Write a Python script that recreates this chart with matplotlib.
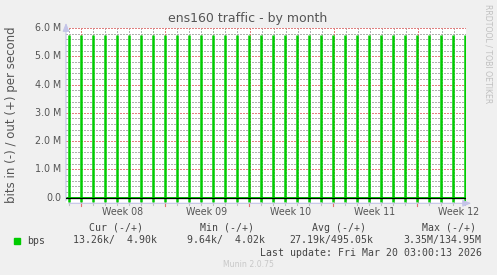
import matplotlib
matplotlib.use("Agg")
import matplotlib.pyplot as plt
import matplotlib.transforms as mtransforms
import pandas as pd

W, H = 497, 275

# daily spikes (midnight), values in M bits/s
spike_days = pd.date_range("2026-02-15", "2026-03-20", freq="D")
out_peak = [5.74, 5.74, 5.74, 5.74, 5.74, 5.74, 5.74, 5.74, 5.74, 5.74,
            5.74, 5.74, 5.74, 5.74, 5.74, 5.74, 5.74, 5.74, 5.74, 5.74,
            5.74, 5.74, 5.74, 5.74, 5.74, 5.74, 5.74, 5.74, 5.74, 5.74,
            5.74, 5.74, 5.74, 5.74]
in_dip = [-0.17, -0.15, -0.16, -0.17, -0.16, -0.15, -0.16, -0.17, -0.15, -0.16,
          -0.16, -0.16, -0.17, -0.15, -0.16, -0.16, -0.17, -0.16, -0.15, -0.16,
          -0.16, -0.17, -0.16, -0.15, -0.16, -0.16, -0.17, -0.15, -0.16, -0.16,
          -0.17, -0.16, -0.15, -0.16]
out_base = 0.0049
in_base = -0.0133

t_start = pd.Timestamp("2026-02-14 19:00")
t_end = pd.Timestamp("2026-03-20 03:00")

week_starts = pd.to_datetime(["2026-02-16", "2026-02-23", "2026-03-02", "2026-03-09", "2026-03-16"])
week_labels = ["Week 08", "Week 09", "Week 10", "Week 11", "Week 12"]

y_ticks = [0, 1, 2, 3, 4, 5, 6]
y_labels = ["0.0", "1.0 M", "2.0 M", "3.0 M", "4.0 M", "5.0 M", "6.0 M"]

legend_cols = ["Cur (-/+)", "Min (-/+)", "Avg (-/+)", "Max (-/+)"]
legend_vals = ["13.26k/  4.90k", "9.64k/  4.02k", "27.19k/495.05k", "3.35M/134.95M"]

GREEN = "#00cc00"
BG = "#f0f0f0"
TXT = "#555555"
AXC = "#c4c4e8"

plt.rcParams["lines.scale_dashes"] = False


def px(x, y):
    return x / W, 1 - y / H


def main():
    fig = plt.figure(figsize=(W / 100, H / 100), dpi=100, facecolor=BG)
    ax = fig.add_axes([66 / W, (H - 203.3) / H, 400 / W, 175.3 / H])
    ax.set_facecolor("white")
    ax.set_xlim(t_start, t_end)
    ax.set_ylim(-0.2, 6.0)
    for s in ax.spines.values():
        s.set_visible(False)
    ax.set_xticks([])
    ax.set_yticks([])

    # crisp 1px dotted grid (no antialiasing so the dots don't blur)
    dots = (0, (1.44, 1.44))
    gkw = dict(lw=0.72, ls=dots, zorder=1, snap=True, antialiased=False)
    for v in [i * 0.2 for i in range(0, 31)]:
        if abs(v - round(v)) > 1e-6:
            ax.axhline(v, color="#b0b0b0", **gkw)
    for d in spike_days:
        ax.axvline(d + pd.Timedelta(hours=2), color="#b0b0b0", **gkw)
    for v in y_ticks:
        ax.axhline(v, color="#e08080", **gkw)
    for d in week_starts:
        ax.axvline(d + pd.Timedelta(hours=2), color="#e08080", **gkw)

    # series
    ax.hlines(out_base, t_start, t_end, color=GREEN, lw=1.2, zorder=3)
    ax.hlines(in_base, t_start, t_end, color=GREEN, lw=1.2, zorder=3)
    ax.vlines(spike_days, out_base, out_peak, color=GREEN, lw=1.8, zorder=3)
    ax.vlines(spike_days, in_dip, in_base, color=GREEN, lw=1.8, zorder=3)
    ax.axhline(0, color="black", lw=0.9, zorder=4)

    # axis lines with arrows
    ax.annotate("", xy=(0, 1.045), xytext=(0, 0), xycoords="axes fraction",
                arrowprops=dict(arrowstyle="-|>,head_length=0.5,head_width=0.2", color=AXC, lw=0.8),
                annotation_clip=False)
    ax.annotate("", xy=(1.02, 0), xytext=(0, 0), xycoords="axes fraction",
                arrowprops=dict(arrowstyle="-|>,head_length=0.5,head_width=0.2", color=AXC, lw=0.8),
                annotation_clip=False)

    # small ticks under the x axis
    trans = mtransforms.blended_transform_factory(ax.transData, ax.transAxes)
    for d in spike_days:
        ax.plot([d, d], [0, -0.012], color="#c0c0c0", lw=0.8, transform=trans, clip_on=False)
    for d in week_starts:
        ax.plot([d, d], [0, -0.015], color="#e07070", lw=0.8, transform=trans, clip_on=False)

    # tick labels
    for v, lab in zip(y_ticks, y_labels):
        ax.text(-0.0125, v, lab, transform=mtransforms.blended_transform_factory(ax.transAxes, ax.transData),
                ha="right", va="center", fontsize=6.85, color=TXT)
    for d, lab in zip(week_starts, week_labels):
        ax.text(d + pd.Timedelta(hours=84), -0.05, lab, transform=trans,
                ha="center", va="center", fontsize=6.85, color=TXT)

    fig.text(*px(247.5, 18.5), "ens160 traffic - by month", ha="center", va="center",
             fontsize=9, color=TXT)
    fig.text(*px(11.5, 115), "bits in (-) / out (+) per second", ha="center", va="center",
             rotation=90, fontsize=8.5, color=TXT)
    fig.text(*px(488, 54), "RRDTOOL / TOBI OETIKER", ha="center", va="center",
             rotation=270, fontsize=5.6, color="#c0c0c0")

    # legend
    mono = "DejaVu Sans Mono"
    for x, lab in zip([89, 200, 312, 422], legend_cols):
        fig.text(*px(x, 228), lab, ha="left", va="center", fontsize=7.1, family=mono, color="#444444")
    fig.patches.append(plt.Rectangle(px(14, 243.5), 6 / W, 6 / H, transform=fig.transFigure,
                                     color=GREEN, figure=fig))
    fig.text(*px(27, 240.5), "bps", ha="left", va="center", fontsize=7.1, family=mono, color="#444444")
    for x, lab in zip([73, 187, 289, 403], legend_vals):
        fig.text(*px(x, 240.5), lab, ha="left", va="center", fontsize=7.1, family=mono, color="#444444")
    fig.text(*px(482, 252.5), "Last update: Fri Mar 20 03:00:13 2026", ha="right", va="center",
             fontsize=7.1, family=mono, color="#444444")
    fig.text(*px(223, 264.5), "Munin 2.0.75", ha="left", va="center", fontsize=5.6, color="#c8c8c8")

    fig.savefig("out.png", dpi=100, facecolor=BG)


if __name__ == "__main__":
    main()
